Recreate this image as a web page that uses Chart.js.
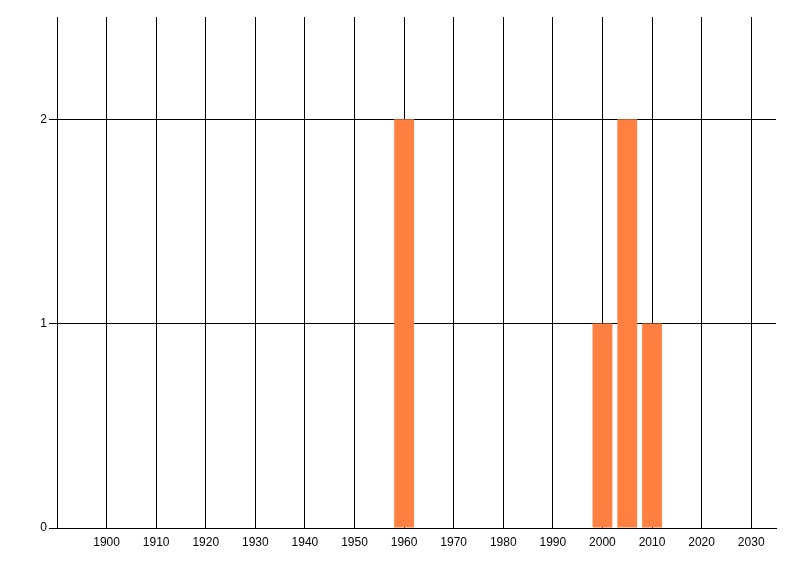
<!DOCTYPE html>
<html>
<head>
<meta charset="utf-8">
<script src="https://cdn.jsdelivr.net/npm/chart.js@4"></script>
<style>
  html, body { margin: 0; padding: 0; background: #fff; }
  #c { display: block; }
</style>
</head>
<body>
<canvas id="c" width="800" height="576"></canvas>
<script>
// counts per year
const years = [1960, 2000, 2005, 2010];
const counts = [2, 1, 2, 1];
const xTicks = [1900, 1910, 1920, 1930, 1940, 1950, 1960, 1970, 1980, 1990, 2000, 2010, 2020, 2030];
const yTicks = [0, 1, 2];

const font = { family: 'Liberation Sans, Arial, sans-serif', size: 12 };

let ctx = document.getElementById('c');
let chart = new Chart(ctx, {
  type: 'bar',
  data: {
    datasets: [{
      data: years.map((y, i) => ({ x: y, y: counts[i] })),
      backgroundColor: '#FF8040',
      borderWidth: 0,
      barPercentage: 0.8,
      categoryPercentage: 1.0
    }]
  },
  options: {
    responsive: false,
    animation: false,
    layout: { padding: { top: 17, right: 24, left: 0, bottom: 0 } },
    plugins: { legend: { display: false }, tooltip: { enabled: false } },
    scales: {
      x: {
        type: 'linear',
        min: 1890,
        max: 2035,
        offset: false,
        afterBuildTicks: s => { s.ticks = xTicks.map(v => ({ value: v })); },
        afterFit: s => { s.height = 48; },
        grid: { color: '#000', lineWidth: 1, drawTicks: false, offset: false },
        border: { display: true, color: '#000', width: 1 },
        ticks: { color: '#000', font: font, padding: 7, maxRotation: 0, autoSkip: false,
          callback: v => String(v) }
      },
      y: {
        min: 0,
        max: 2.5,
        afterBuildTicks: s => { s.ticks = yTicks.map(v => ({ value: v })); },
        afterFit: s => { s.width = 57; },
        grid: { color: '#000', lineWidth: 1, drawTicks: true, tickLength: 8 },
        border: { display: true, color: '#000', width: 1 },
        ticks: { color: '#000', font: font, padding: 2 }
      }
    }
  }
});
</script>
</body>
</html>
